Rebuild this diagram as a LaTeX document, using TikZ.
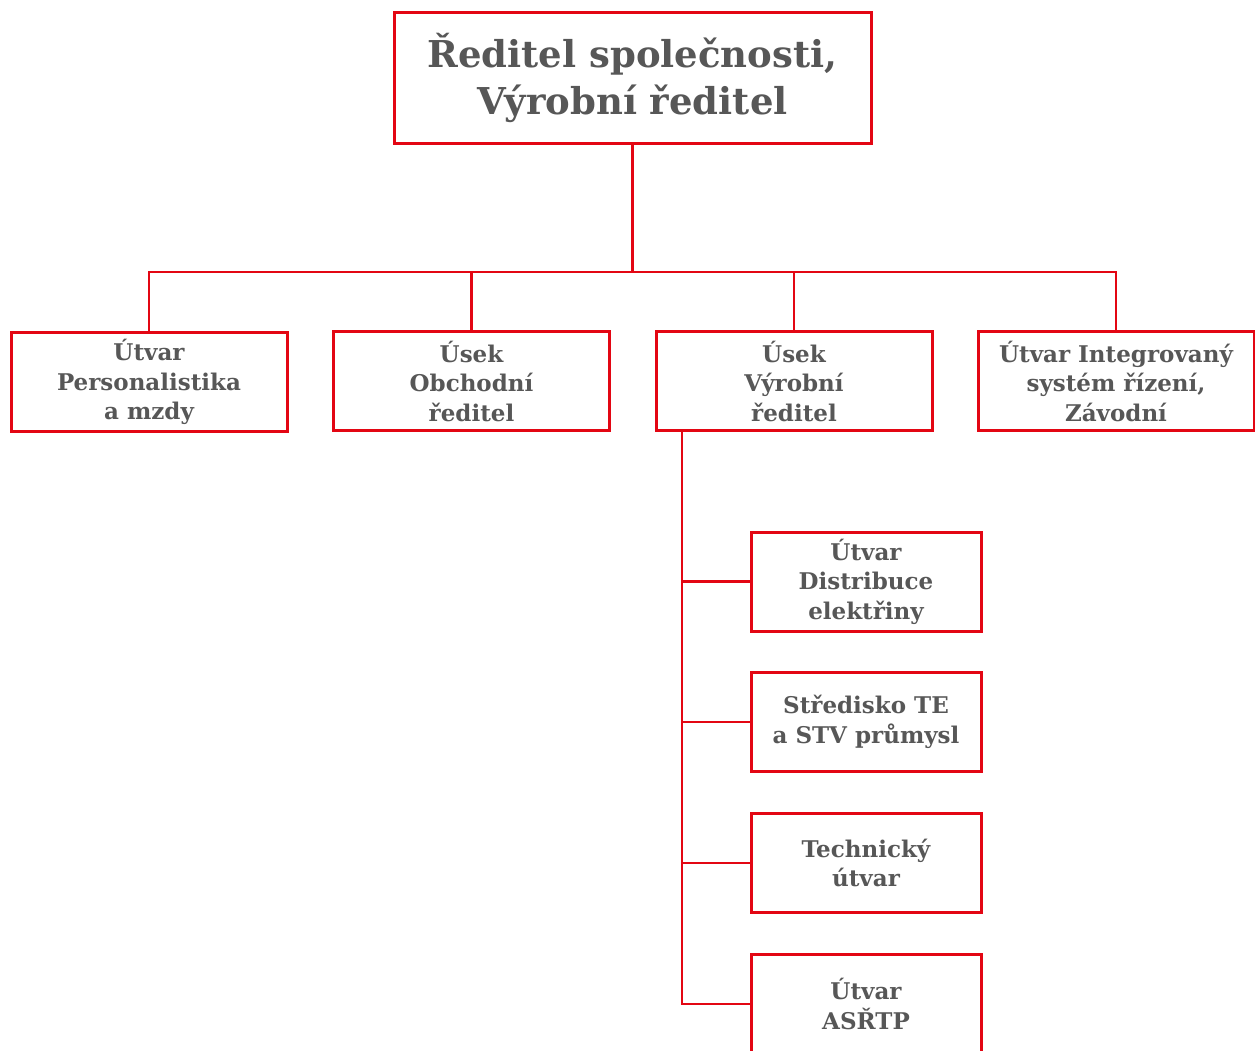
\documentclass[tikz,border=0pt]{standalone}
\usepackage{fontspec}
\setmainfont{DejaVu Serif}
\usepackage{xcolor}
\usepackage{tikz}
\usetikzlibrary{positioning}

\definecolor{orgred}{HTML}{E30613}
\definecolor{orggray}{HTML}{575757}

\begin{document}
\begin{tikzpicture}[x=1pt, y=-1pt,
    unit/.style={draw=orgred, line width=3pt, rectangle, inner sep=0pt, align=center,
        text=orggray, font=\bfseries\fontsize{23}{29.5}\selectfont},
    topunit/.style={unit, minimum width=477pt, minimum height=131pt,
        font=\bfseries\fontsize{37}{48}\selectfont},
    mainunit/.style={unit, minimum width=276pt, minimum height=99pt},
    subunit/.style={unit, minimum width=230pt, minimum height=99pt},
    link/.style={orgred, line width=2.8pt}]
            \clip (0,0) rectangle (1255,1050);
            \node[topunit] (ceo) at (632.5,77.5) {Ředitel společnosti,\\[-1pt]Výrobní ředitel};

            \node[mainunit] (hr) at (149,382) {Útvar\\Personalistika\\a mzdy};
            \node[mainunit] (sales) at (471.5,381) {Úsek\\Obchodní\\ředitel};
            \node[mainunit] (prod) at (794,381) {Úsek\\Výrobní\\ředitel};
            \node[mainunit] (ims) at (1116,381) {Útvar Integrovaný\\systém řízení,\\Závodní};

            \node[subunit] (distr) at (866,581.5) {Útvar\\Distribuce\\elektřiny};
            \node[subunit] (te) at (866,722) {Středisko TE\\a STV průmysl};
            \node[subunit] (tech) at (866,863) {Technický\\útvar};
            \node[subunit] (asrtp) at (866,1004) {Útvar\\ASŘTP};

            \coordinate (bus) at (632.5,272);
            \coordinate (trunk) at (682,431);

            \draw[link] (ceo) -- (bus);
            \draw[link] (hr.north) |- (bus) -| (ims.north);
            \draw[link] (sales.north) -- (sales.north |- bus);
            \draw[link] (prod.north) -- (prod.north |- bus);
            \draw[link] (trunk) |- (asrtp.west);
            \draw[link] (trunk |- distr.west) -- (distr.west);
            \draw[link] (trunk |- te.west) -- (te.west);
            \draw[link] (trunk |- tech.west) -- (tech.west);
        \end{tikzpicture}
\end{document}
